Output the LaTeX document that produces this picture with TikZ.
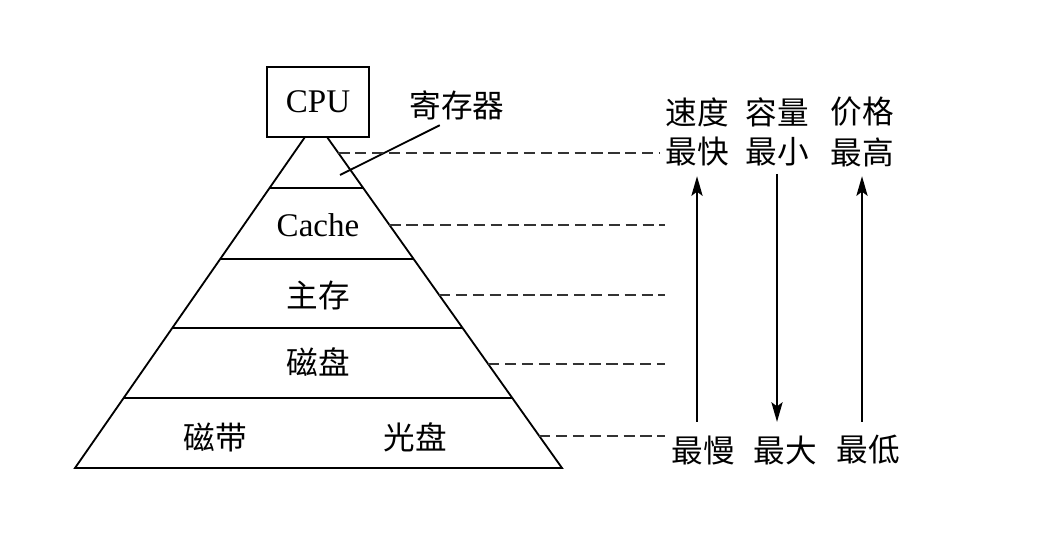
\documentclass[tikz,border=0pt]{standalone}
\usepackage{fontspec}
\setmainfont{Liberation Serif}
\newfontfamily\cjk{Noto Sans CJK SC}
\usetikzlibrary{calc, arrows.meta, positioning}

\begin{document}
\begin{tikzpicture}[>={Stealth[length=14pt,width=8pt,inset=3pt]}, line width=1.3pt,
    every node/.style={font=\fontsize{22.5}{26}\selectfont\cjk},
    latin/.style={font=\fontsize{23.5}{28}\selectfont\rmfamily},
    dashline/.style={dashed, dash pattern=on 8pt off 4pt, line width=1.4pt, black!80}]
    \useasboundingbox (0,0) rectangle (25.95,13.675);

    % CPU on top
    \node[draw, latin, minimum width=2.55cm, minimum height=1.75cm] (cpu) at (7.95,11.125) {CPU};

    % Pyramid
    \coordinate (TL) at (7.625,10.25);
    \coordinate (TR) at (8.175,10.25);
    \coordinate (BL) at (1.875,1.975);
    \coordinate (BR) at (14.05,1.975);
    \draw (TL) -- (BL) -- (BR) -- (TR);
    \foreach \t in {0.154, 0.3686, 0.577, 0.7885}
        \draw ($(TL)!\t!(BL)$) -- ($(TR)!\t!(BR)$);

    % Levels
    \node[latin] (cache) at (7.95,8.05) {Cache};
    \node (mem) at (7.95,6.3) {主存};
    \node (disk) at (7.95,4.625) {磁盘};
    \node (tape) at (5.375,2.75) {磁带};
    \node (cd) at (10.375,2.75) {光盘};

    % Register label
    \node (reg) at (11.425,11.05) {寄存器};
    \coordinate (regTip) at (8.5,9.3);
    \draw (regTip) -- ($(reg.south)+(-0.43,0)$);

    % Right columns
    \node (speed) at (17.425,10.875) {速度};
    \node (fast) at (17.425,9.875) {最快};
    \node (size) at (19.425,10.875) {容量};
    \node (small) at (19.425,9.875) {最小};
    \node (price) at (21.55,10.875) {价格};
    \node (high) at (21.55,9.875) {最高};
    \node (slow) at (17.575,2.425) {最慢};
    \node (big) at (19.625,2.425) {最大};
    \node (low) at (21.7,2.425) {最低};

    \draw[->, shorten <=0.2cm, shorten >=0.1cm] (slow.north -| fast.south) -- (fast.south);
    \draw[->, shorten <=0.05cm, shorten >=0.2cm] (small.south) -- (small.south |- big.north);
    \draw[->, shorten <=0.2cm, shorten >=0.1cm] (low.north -| high.south) -- (high.south);

    % Dashed guides
    \foreach \t/\name in {0.0483/d1, 0.2659/d2, 0.477/d3, 0.686/d4, 0.903/d5}
        \coordinate (\name) at ($(TR)!\t!(BR)$);
    \draw[dashline] (d1) -- (d1 -| fast.west);
    \foreach \name in {d2, d3, d4, d5}
        \draw[dashline] (\name) -- (\name -| 16.625,0);
\end{tikzpicture}
\end{document}
